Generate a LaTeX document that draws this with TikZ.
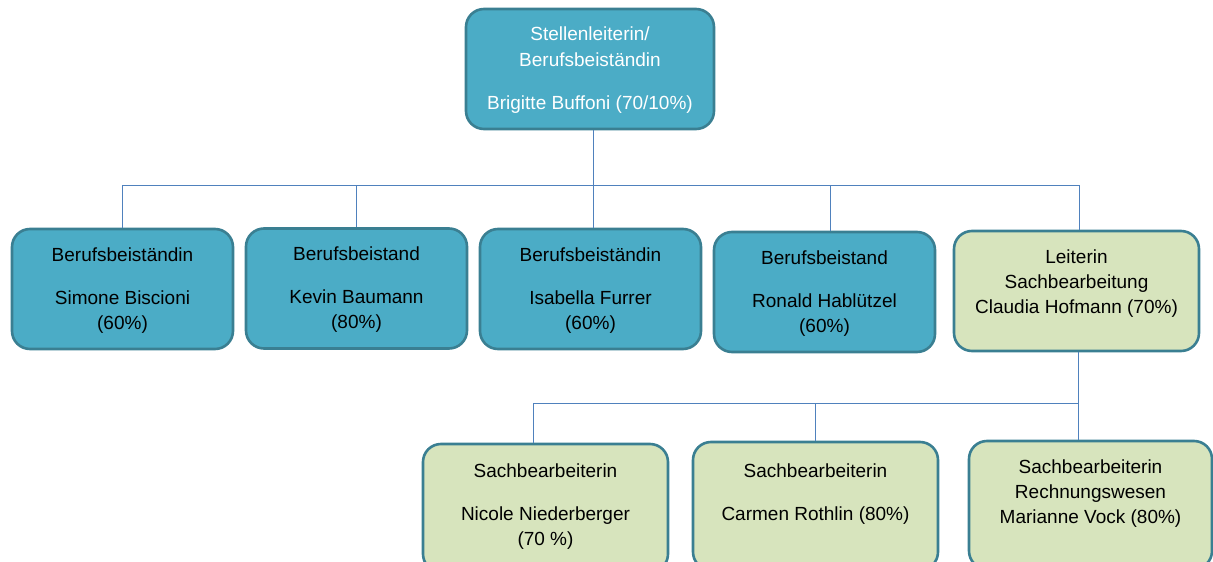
\documentclass[tikz,border=0pt]{standalone}
\usepackage{fontspec}
\setmainfont{Liberation Sans}
\definecolor{bfill}{HTML}{4BACC6}
\definecolor{gfill}{HTML}{D7E4BD}
\definecolor{bord}{HTML}{3A7F92}
\definecolor{connc}{HTML}{4F81BD}
\begin{document}
\begin{tikzpicture}[x=1pt,y=-1pt,
  box/.style={draw=bord, line width=2.6pt, rounded corners=18pt, minimum width=#1, minimum height=120pt, inner sep=0pt},
  box/.default=221pt,
  bluebox/.style={box=#1, fill=bfill},
  bluebox/.default=221pt,
  greenbox/.style={box=#1, fill=gfill},
  greenbox/.default=245pt,
  tallbox/.style={minimum height=128pt},
  txt/.style={align=center, font=\fontsize{19}{25}\selectfont, inner sep=0pt, text=black},
  conn/.style={draw=connc, line width=0.9pt}]
\clip (0,0) rectangle (1213,562);
% boxes
\node[bluebox=248pt] (top) at (590,69) {};
\node[bluebox] (b1) at (122.5,289) {};
\node[bluebox] (b2) at (356.5,288.5) {};
\node[bluebox] (b3) at (590.5,289) {};
\node[bluebox] (b4) at (824.5,292) {};
\node[greenbox] (b5) at (1076.5,291) {};
\node[greenbox, tallbox] (c1) at (545.5,508) {};
\node[greenbox, tallbox] (c2) at (815.5,506) {};
\node[greenbox=243pt, tallbox] (c3) at (1090.5,505) {};
% texts
\node[txt, text=white, font=\fontsize{19}{26}\selectfont] (t0) at ([yshift=-1pt]top.center) {Stellenleiterin/\\Berufsbeiständin\\[17pt]Brigitte Buffoni (70/10\%)};
\node[txt] (t1) at ([yshift=-1.5pt]b1.center) {Berufsbeiständin\\[18pt]Simone Biscioni\\(60\%)};
\node[txt] (t2) at ([yshift=-1.5pt]b2.center) {Berufsbeistand\\[18pt]Kevin Baumann\\(80\%)};
\node[txt] (t3) at ([yshift=-1.5pt]b3.center) {Berufsbeiständin\\[18pt]Isabella Furrer\\(60\%)};
\node[txt] (t4) at ([yshift=-1.5pt]b4.center) {Berufsbeistand\\[18pt]Ronald Hablützel\\(60\%)};
\node[txt] (t5) at ([yshift=7.5pt]b5.center) {Leiterin\\Sachbearbeitung\\Claudia Hofmann (70\%)};
\node[txt] (u1) at ([yshift=1.5pt]c1.center) {Sachbearbeiterin\\[18pt]Nicole Niederberger\\(70 \%)};
\node[txt] (u2) at ([yshift=12pt]c2.center) {Sachbearbeiterin\\[18pt]Carmen Rothlin (80\%)};
\node[txt] (u3) at ([yshift=11pt]c3.center) {Sachbearbeiterin\\Rechnungswesen\\Marianne Vock (80\%)};
% bus coordinates
\coordinate (bus1) at (0,185);
\coordinate (bus2) at (0,403);
% first level connectors
\draw[conn] ([xshift=3pt]top.south) -- ([xshift=3pt]top.south |- bus1);
\draw[conn] (b1.north) -- (b1.north |- bus1) -- ([xshift=2.5pt]b5.north |- bus1) -- ([xshift=2.5pt]b5.north);
\draw[conn] (b2.north) -- (b2.north |- bus1);
\draw[conn] ([xshift=3pt]b3.north) -- ([xshift=3pt]b3.north |- bus1);
\draw[conn] ([xshift=5.5pt]b4.north) -- ([xshift=5.5pt]b4.north |- bus1);
% second level connectors
\draw[conn] ([xshift=1.5pt]b5.south) -- ([xshift=-12.5pt]c3.north);
\draw[conn] ([xshift=-12.5pt]c1.north) -- ([xshift=-12.5pt]c1.north |- bus2) -- ([xshift=1.5pt]b5.south |- bus2);
\draw[conn] (c2.north) -- (c2.north |- bus2);
\end{tikzpicture}
\end{document}
